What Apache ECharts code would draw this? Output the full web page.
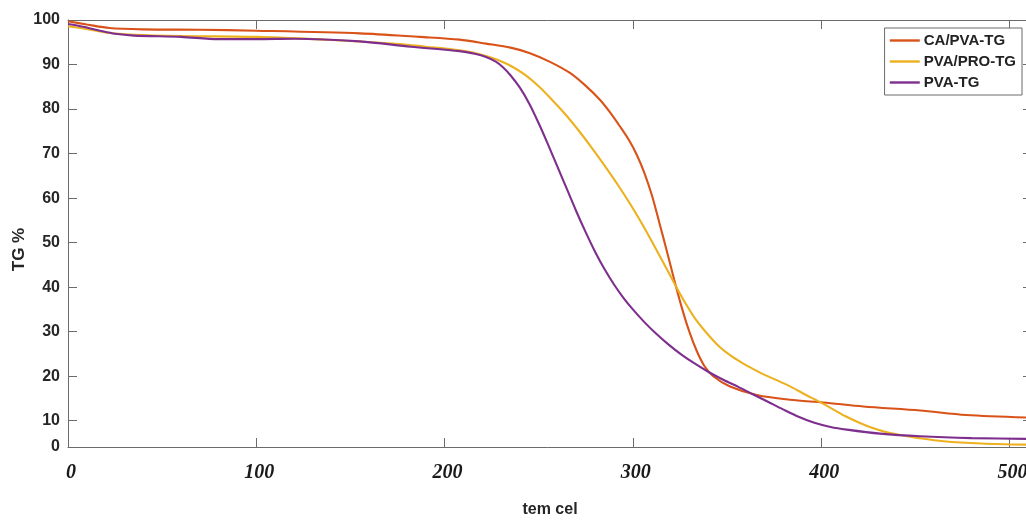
<!DOCTYPE html>
<html>
<head>
<meta charset="utf-8">
<script src="https://cdn.jsdelivr.net/npm/echarts@6/dist/echarts.min.js"></script>
<style>
  html, body { margin: 0; padding: 0; background: #ffffff; }
  #chart { width: 1026px; height: 521px; }
</style>
</head>
<body>
<div id="chart"></div>
<script>
// Thermogravimetric curves: residual mass (TG %) against temperature (°C)

const caPvaTemp = [0, 10, 22, 40, 70, 100, 155, 187, 208, 222, 235, 245, 256, 266.6, 275, 282.5, 288, 293, 298, 302, 306, 310, 314, 318, 322, 326, 330, 334, 338, 342.7, 351.6, 365.8, 383.5, 401.2, 422.4, 452.6, 477, 512];
const caPvaTG   = [99.7, 99.0, 98.2, 97.9, 97.8, 97.6, 97.0, 96.2, 95.6, 94.7, 93.8, 92.6, 90.6, 88.1, 85.2, 82.1, 79.2, 76.2, 73.0, 69.8, 65.8, 60.8, 54.6, 48.2, 41.6, 35.4, 30.0, 25.6, 22.3, 20.0, 17.7, 15.8, 14.7, 14.1, 13.2, 12.3, 11.3, 10.7];

const pvaProTemp = [0, 8, 20, 35, 60, 100, 140, 176, 190, 208, 215, 222, 229, 236, 243, 250, 257, 264, 271, 278, 285, 292, 299, 306, 313, 320, 326, 333, 340, 346, 352, 358, 364, 370, 377, 384, 391, 397, 402, 407, 413, 420, 427, 434, 442, 452, 465, 485, 512];
const pvaProTG   = [98.6, 98.1, 97.2, 96.7, 96.4, 96.2, 95.5, 94.6, 94.0, 93.2, 92.7, 91.9, 90.9, 89.5, 87.6, 85.1, 82.1, 78.9, 75.3, 71.4, 67.3, 63.0, 58.4, 53.4, 48.0, 42.5, 37.8, 33.0, 29.3, 26.6, 24.6, 23.0, 21.6, 20.3, 19.0, 17.6, 16.0, 14.7, 13.6, 12.4, 11.0, 9.6, 8.4, 7.5, 6.8, 6.1, 5.4, 4.9, 4.6];

const pvaTemp = [0, 8, 17, 25, 35, 60, 80, 100, 120, 155, 182, 208, 216, 222, 227, 231, 235, 240, 245, 250, 255, 260, 265, 270, 275, 280, 285, 290, 295, 300, 306, 312, 319, 326, 333, 340, 348, 356, 364, 372, 380, 388, 396, 405, 413.6, 431.3, 452.6, 480, 512];
const pvaTG   = [99.1, 98.5, 97.6, 96.9, 96.5, 96.2, 95.7, 95.7, 95.8, 95.2, 94.0, 93.0, 92.4, 91.7, 90.7, 89.4, 87.6, 84.8, 81.2, 76.8, 72.0, 67.0, 62.0, 57.0, 52.3, 47.9, 44.0, 40.6, 37.6, 35.0, 32.2, 29.7, 27.1, 24.8, 22.8, 21.0, 19.2, 17.6, 15.9, 14.2, 12.5, 10.9, 9.6, 8.6, 8.0, 7.1, 6.5, 6.1, 5.9];

const seriesNames  = ['CA/PVA-TG', 'PVA/PRO-TG', 'PVA-TG'];
const seriesColors = ['#D95319', '#EDB120', '#7E2F8E'];

const xTicks = [0, 100, 200, 300, 400, 500];
const yTicks = [10, 20, 30, 40, 50, 60, 70, 80, 90, 100];
const yFloor = 4.1;      // lower edge of the TG axis, labelled "0"
const xMax = 512;

function pairs(xs, ys) { return xs.map((x, i) => [x, ys[i]]); }

const axisGray = '#6b6b6b';
const textDark = '#262626';

const chart = echarts.init(document.getElementById('chart'), null, { renderer: 'canvas' });

const lineSeries = [
  [caPvaTemp, caPvaTG],
  [pvaProTemp, pvaProTG],
  [pvaTemp, pvaTG]
].map((d, i) => ({
  name: seriesNames[i],
  type: 'line',
  data: pairs(d[0], d[1]),
  showSymbol: false,
  symbol: 'none',
  smooth: 0.3,
  clip: true,
  lineStyle: { color: seriesColors[i], width: 2.1 },
  itemStyle: { color: seriesColors[i] },
  z: 2 + i
}));

chart.setOption({
  animation: false,
  backgroundColor: '#ffffff',
  grid: { left: 68, top: 20, right: -6, bottom: 74, outerBoundsMode: 'none', containLabel: false },
  legend: {
    orient: 'vertical',
    right: 4,
    top: 28,
    padding: [5, 6, 5, 4],
    itemGap: 6,
    itemWidth: 30,
    itemHeight: 14,
    backgroundColor: '#ffffff',
    borderColor: axisGray,
    borderWidth: 1,
    borderRadius: 0,
    itemStyle: { opacity: 0 },
    lineStyle: { width: 2.4 },
    textStyle: { fontFamily: 'Liberation Sans', fontWeight: 'bold', fontSize: 15, color: '#222222', padding: [0, 0, 0, -1] },
    data: seriesNames
  },
  xAxis: [
    {
      type: 'value', position: 'bottom', min: 0, max: xMax,
      name: 'tem cel', nameLocation: 'middle', nameGap: 55, nameMoveOverlap: false,
      nameTextStyle: { fontFamily: 'Liberation Sans', fontWeight: 'bold', fontSize: 16, color: textDark },
      axisLine: { show: true, onZero: false, lineStyle: { color: axisGray, width: 1 } },
      axisTick: { show: true, inside: true, length: 9, customValues: xTicks.slice(1), lineStyle: { color: axisGray } },
      axisLabel: {
        customValues: xTicks, margin: 16, padding: [0, 0, 0, 6],
        fontFamily: 'Liberation Serif', fontStyle: 'italic', fontWeight: 'bold', fontSize: 20, color: '#1a1a1a'
      },
      splitLine: { show: false }
    },
    {
      type: 'value', position: 'top', min: 0, max: xMax,
      axisLine: { show: true, onZero: false, lineStyle: { color: axisGray, width: 1 } },
      axisTick: { show: true, inside: true, length: 9, customValues: xTicks.slice(1), lineStyle: { color: axisGray } },
      axisLabel: { show: false },
      splitLine: { show: false }
    }
  ],
  yAxis: [
    {
      type: 'value', position: 'left', min: yFloor, max: 100,
      name: 'TG %', nameLocation: 'middle', nameGap: 40, nameMoveOverlap: false,
      nameTextStyle: { fontFamily: 'Liberation Sans', fontWeight: 'bold', fontSize: 17, color: textDark, padding: [0, 32, 0, 0] },
      axisLine: { show: true, onZero: false, lineStyle: { color: axisGray, width: 1 } },
      axisTick: { show: true, inside: true, length: 9, customValues: yTicks, lineStyle: { color: axisGray } },
      axisLabel: {
        customValues: [yFloor].concat(yTicks), margin: 8,
        formatter: v => (v === yFloor ? '0' : String(v)),
        fontFamily: 'Liberation Sans', fontWeight: 'bold', fontSize: 16, color: textDark
      },
      splitLine: { show: false }
    },
    {
      type: 'value', position: 'right', min: yFloor, max: 100,
      axisLine: { show: true, onZero: false, lineStyle: { color: axisGray, width: 1 } },
      axisTick: { show: true, inside: true, length: 9, customValues: yTicks, lineStyle: { color: axisGray } },
      axisLabel: { show: false },
      splitLine: { show: false }
    }
  ],
  series: lineSeries
});
</script>
</body>
</html>
